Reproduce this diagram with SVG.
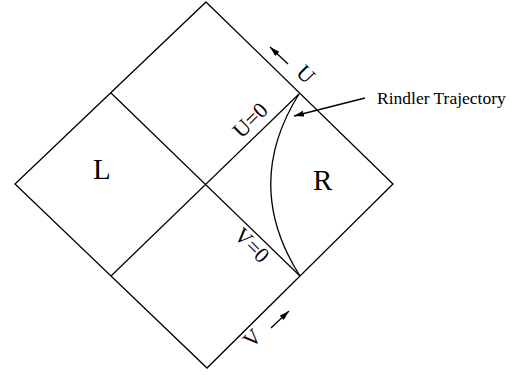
<svg xmlns="http://www.w3.org/2000/svg" width="519" height="375" viewBox="0 0 519 375">
  <style>
    .ln { fill: none; stroke: #000; stroke-width: 1.3; stroke-linejoin: miter; }
    .tx { font-family: "Liberation Serif", "Times New Roman", serif; fill: #000; }
    .big { font-size: 29px; }
    .lab { font-size: 22px; text-anchor: middle; }
    .note { font-size: 17.5px; }
  </style>
  <defs>
    <marker id="ah" viewBox="0 0 10 6" refX="10" refY="3" markerWidth="10" markerHeight="6" markerUnits="userSpaceOnUse" orient="auto">
      <path d="M0,0 L10,3 L0,6 Z" fill="#000"/>
    </marker>
  </defs>
  <rect width="519" height="375" fill="#fff"/>

  <g id="diagram-frame">
    <path class="ln" d="M206,2 L393,184 L207,368 L15,184 Z"/>
  </g>

  <g id="connectors">
    <line id="horizon-U0" class="ln" x1="111" y1="93" x2="300" y2="276"/>
    <line id="horizon-V0" class="ln" x1="111" y1="276" x2="299" y2="94"/>
    <path id="rindler-trajectory" class="ln" d="M299,94 Q242,185 300,276"/>
    <line id="arrow-rindler" class="ln" x1="365" y1="98" x2="294" y2="116" marker-end="url(#ah)"/>
    <line id="arrow-U" class="ln" x1="288" y1="64" x2="270" y2="47" marker-end="url(#ah)"/>
    <line id="arrow-V" class="ln" x1="271" y1="328" x2="289" y2="311" marker-end="url(#ah)"/>
  </g>

  <g id="region-L">
    <text class="tx big" x="93" y="179">L</text>
  </g>
  <g id="region-R">
    <text class="tx big" x="313" y="190">R</text>
  </g>

  <g id="labels">
    <text class="tx lab" transform="translate(306,74) rotate(45)" y="7.5">U</text>
    <text class="tx lab" transform="translate(250,120) rotate(-45)" y="7.5">U=0</text>
    <text class="tx lab" transform="translate(252,245) rotate(45)" y="7.5">V=0</text>
    <text class="tx lab" transform="translate(252,338) rotate(-45)" y="7.5">V</text>
    <text class="tx note" x="377" y="104">Rindler Trajectory</text>
  </g>
</svg>
